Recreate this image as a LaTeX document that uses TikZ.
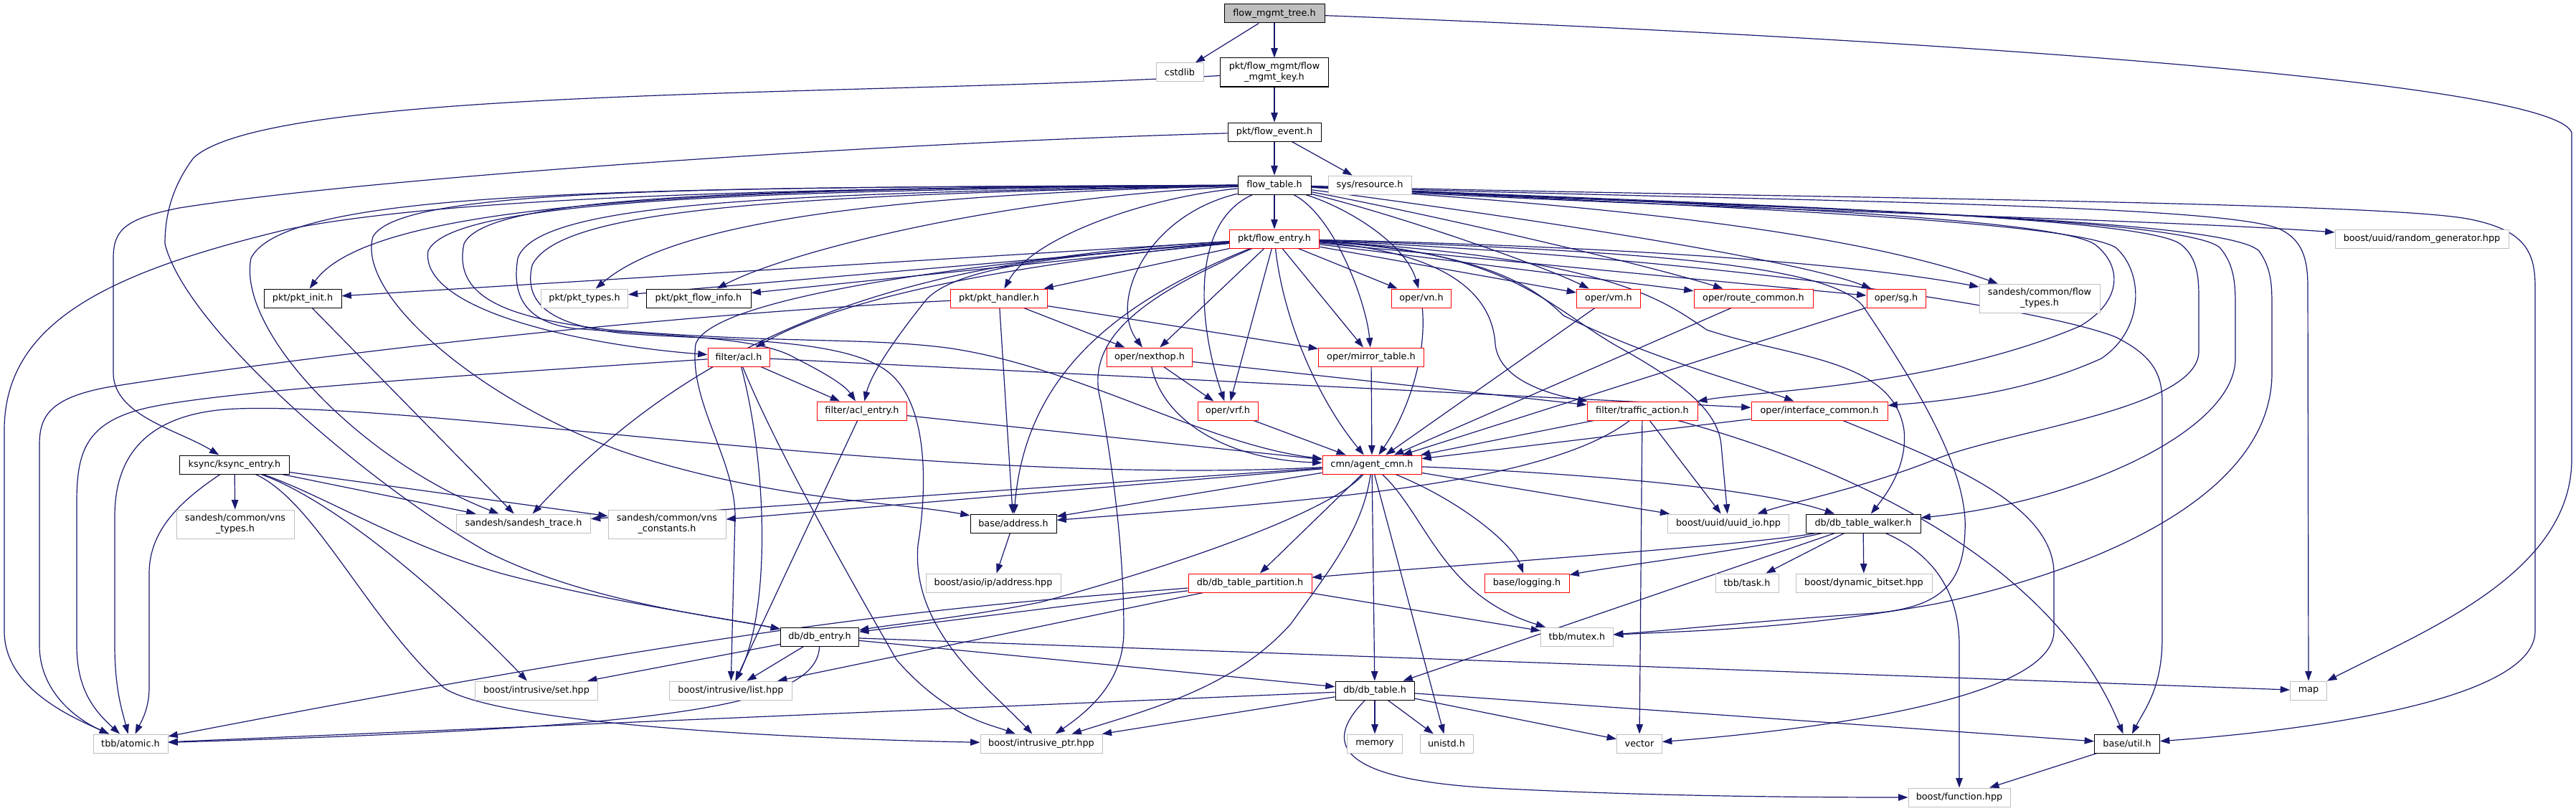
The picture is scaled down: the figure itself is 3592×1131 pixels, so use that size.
\documentclass[tikz,border=0pt]{standalone}
\usepackage{fontspec}
\newfontfamily\djv{DejaVu Sans}
\usetikzlibrary{arrows.meta}
\definecolor{edgec}{HTML}{191970}
\definecolor{gsev}{HTML}{BFBFBF}
\pgfdeclarelayer{bglayer}
\pgfsetlayers{bglayer,main}
\tikzset{
  nb/.style={rectangle, line width=0.75pt, minimum height=19.5pt, inner sep=0pt, fill=white, align=center, font=\djv\fontsize{9.6pt}{11.25pt}\selectfont},
  bb/.style={nb, draw=black},
  rb/.style={nb, draw=red},
  gb/.style={nb, draw=gsev},
  rootb/.style={nb, draw=black, fill=gsev},
  tall/.style={minimum height=30pt},
  wd/.style={minimum width=#1*0.75pt},
  ed/.style={draw=edgec, line width=0.9pt, -{Triangle[length=10pt,width=7pt]}},
}
\begin{document}
\begin{tikzpicture}[x=0.75pt,y=-0.75pt]
\useasboundingbox (0,0) rectangle (3592,1131);
% nodes
\node[rootb,wd=140] (N1) at (1777,19) {flow\_mgmt\_tree.h};
\node[gb,wd=66] (N2) at (1645,101) {cstdlib};
\node[bb,tall,wd=151] (N3) at (1777,101) {pkt/flow\_mgmt/flow\\\_mgmt\_key.h};
\node[bb,wd=130] (N4) at (1777,184) {pkt/flow\_event.h};
\node[bb,wd=102] (N5) at (1777,258) {flow\_table.h};
\node[gb,wd=116] (N6) at (1910,258) {sys/resource.h};
\node[gb,wd=242] (N7) at (3377,333) {boost/uuid/random\_generator.hpp};
\node[rb,wd=125] (N8) at (1777,333) {pkt/flow\_entry.h};
\node[bb,wd=108] (N9) at (422,416) {pkt/pkt\_init.h};
\node[gb,wd=121] (N10) at (815,416) {pkt/pkt\_types.h};
\node[bb,wd=146] (N11) at (974,416) {pkt/pkt\_flow\_info.h};
\node[rb,wd=135] (N12) at (1393,416) {pkt/pkt\_handler.h};
\node[rb,wd=83] (N13) at (1982,416) {oper/vn.h};
\node[rb,wd=89] (N14) at (2243,416) {oper/vm.h};
\node[rb,wd=166] (N15) at (2445,416) {oper/route\_common.h};
\node[rb,wd=82] (N16) at (2644,416) {oper/sg.h};
\node[gb,tall,wd=168] (N17) at (2844,416) {sandesh/common/flow\\\_types.h};
\node[rb,wd=86] (N18) at (1030,498) {filter/acl.h};
\node[rb,wd=119] (N19) at (1603,498) {oper/nexthop.h};
\node[rb,wd=147] (N20) at (1912,498) {oper/mirror\_table.h};
\node[rb,wd=84] (N21) at (1712,573) {oper/vrf.h};
\node[rb,wd=125] (N22) at (1202,573) {filter/acl\_entry.h};
\node[rb,wd=154] (N23) at (2290,573) {filter/traffic\_action.h};
\node[rb,wd=190] (N24) at (2537,573) {oper/interface\_common.h};
\node[rb,wd=138] (N25) at (1913,648) {cmn/agent\_cmn.h};
\node[bb,wd=153] (N26) at (327,648) {ksync/ksync\_entry.h};
\node[gb,tall,wd=164] (N27) at (328,731) {sandesh/common/vns\\\_types.h};
\node[gb,wd=187] (N28) at (730,730) {sandesh/sandesh\_trace.h};
\node[gb,tall,wd=164] (N29) at (930,731) {sandesh/common/vns\\\_constants.h};
\node[bb,wd=120] (N30) at (1413,730) {base/address.h};
\node[gb,wd=169] (N31) at (2410,730) {boost/uuid/uuid\_io.hpp};
\node[bb,wd=160] (N32) at (2598,730) {db/db\_table\_walker.h};
\node[gb,wd=188] (N33) at (1385,813) {boost/asio/ip/address.hpp};
\node[rb,wd=172] (N34) at (1743,813) {db/db\_table\_partition.h};
\node[rb,wd=118] (N35) at (2129,813) {base/logging.h};
\node[gb,wd=88] (N36) at (2436,813) {tbb/task.h};
\node[gb,wd=190] (N37) at (2599,813) {boost/dynamic\_bitset.hpp};
\node[gb,wd=101] (N38) at (2199,888) {tbb/mutex.h};
\node[bb,wd=109] (N39) at (1143,888) {db/db\_entry.h};
\node[gb,wd=171] (N40) at (748,963) {boost/intrusive/set.hpp};
\node[gb,wd=171] (N41) at (1019,963) {boost/intrusive/list.hpp};
\node[gb,wd=51] (N42) at (3219,963) {map};
\node[bb,wd=110] (N43) at (1917,963) {db/db\_table.h};
\node[gb,wd=104] (N44) at (182,1037) {tbb/atomic.h};
\node[gb,wd=170] (N45) at (1452,1037) {boost/intrusive\_ptr.hpp};
\node[gb,wd=77] (N46) at (1917,1037) {memory};
\node[gb,wd=74] (N47) at (2017,1037) {unistd.h};
\node[gb,wd=63] (N48) at (2286,1037) {vector};
\node[bb,wd=91] (N49) at (2966,1037) {base/util.h};
\node[gb,wd=142] (N50) at (2732,1112) {boost/function.hpp};
\begin{pgfonlayer}{bglayer}
\fill[white] (0,0) rectangle (3592,1131);
% top chain
\draw[ed] (N1) -- (N2);
\draw[ed] (N1) -- (N3);
\draw[ed] (N1) .. controls (2600,50) and (3560,110) .. (3586,185) -- (3586,640) .. controls (3586,800) and (3380,880) .. (N42);
\draw[ed] (N3) -- (N4);
\draw[ed] (N3) .. controls (1200,135) and (380,120) .. (270,220) .. controls (240,260) and (230,300) .. (230,340) .. controls (260,460) and (520,680) .. (680,770) .. controls (820,840) and (1000,860) .. (N39);
\draw[ed] (N4) -- (N5);
\draw[ed] (N4) -- (N6);
\draw[ed] (N4) .. controls (1200,200) and (500,250) .. (250,290) .. controls (175,305) and (158,320) .. (158,360) -- (158,520) .. controls (158,580) and (250,600) .. (N26);
% flow_table right side
\draw[ed] (N5) -- (N8);
\draw[ed] (N5) .. controls (2300,290) and (3000,305) .. (N7);
\draw[ed] (N5) .. controls (2400,280) and (3100,282) .. (3180,320) .. controls (3210,335) and (3218,360) .. (3218,400) -- (N42);
\draw[ed] (N5) .. controls (2400,275) and (3300,280) .. (3440,305) .. controls (3520,320) and (3535,350) .. (3535,400) -- (3535,880) .. controls (3535,980) and (3200,1020) .. (N49);
\draw[ed] (N5) .. controls (2300,282) and (2850,300) .. (2920,340) .. controls (2960,370) and (2960,420) .. (2900,455) .. controls (2700,540) and (2450,545) .. (N23);
\draw[ed] (N5) .. controls (2300,285) and (2880,305) .. (2950,345) .. controls (2990,380) and (2990,460) .. (2930,500) .. controls (2820,550) and (2700,560) .. (N24);
\draw[ed] (N5) .. controls (2400,285) and (2980,300) .. (3040,340) .. controls (3066,360) and (3066,390) .. (3066,420) -- (3066,490) .. controls (3066,570) and (2800,600) .. (2700,640) .. controls (2600,680) and (2500,700) .. (N31);
\draw[ed] (N5) .. controls (2400,288) and (3040,300) .. (3095,345) .. controls (3117,370) and (3117,400) .. (3117,430) -- (3117,500) .. controls (3117,600) and (2900,700) .. (N32);
\draw[ed] (N5) .. controls (2400,290) and (3100,300) .. (3150,350) .. controls (3168,375) and (3168,400) .. (3168,430) -- (3168,520) .. controls (3168,700) and (2900,800) .. (2700,842) .. controls (2500,878) and (2350,880) .. (N38);
\draw[ed] (N8) .. controls (2400,360) and (2850,430) .. (2950,470) .. controls (3000,495) and (3015,520) .. (3015,560) -- (3015,890) .. controls (3015,960) and (2990,990) .. (N49);
\draw[ed] (N8) .. controls (2300,350) and (2560,370) .. (2600,430) .. controls (2660,520) and (2745,650) .. (2740,740) .. controls (2738,820) and (2700,850) .. (2600,856) .. controls (2450,866) and (2320,880) .. (N38);
\draw[ed] (N5) .. controls (2300,290) and (2600,330) .. (N17);
\draw[ed] (N8) .. controls (2300,345) and (2600,370) .. (N17);
\draw[ed] (N5) .. controls (2100,300) and (2500,360) .. (N16);
\draw[ed] (N8) -- (N16);
\draw[ed] (N5) .. controls (2000,300) and (2300,370) .. (N15);
\draw[ed] (N8) -- (N15);
\draw[ed] (N5) .. controls (1950,300) and (2150,370) .. (N14);
\draw[ed] (N8) -- (N14);
\draw[ed] (N5) .. controls (1880,290) and (1960,340) .. (N13);
\draw[ed] (N8) -- (N13);
% flow_table / flow_entry middle
\draw[ed] (N5) .. controls (1600,275) and (1440,330) .. (N12);
\draw[ed] (N8) -- (N12);
\draw[ed] (N5) .. controls (1600,300) and (1545,420) .. (N19);
\draw[ed] (N8) -- (N19);
\draw[ed] (N12) -- (N19);
\draw[ed] (N5) .. controls (1660,310) and (1670,450) .. (N21);
\draw[ed] (N8) -- (N21);
\draw[ed] (N19) -- (N21);
\draw[ed] (N5) .. controls (1860,300) and (1905,420) .. (N20);
\draw[ed] (N8) -- (N20);
\draw[ed] (N12) -- (N20);
% pkt row
\draw[ed] (N5) .. controls (1000,262) and (520,280) .. (N9);
\draw[ed] (N8) -- (N9);
\draw[ed] (N5) .. controls (1300,270) and (950,300) .. (N10);
\draw[ed] (N8) -- (N10);
\draw[ed] (N5) .. controls (1400,275) and (1100,350) .. (N11);
\draw[ed] (N8) -- (N11);
% acl
\draw[ed] (N5) .. controls (1100,266) and (630,275) .. (597,350) .. controls (585,430) and (800,480) .. (N18);
\draw[ed] (N8) .. controls (1500,360) and (1200,400) .. (N18);
\draw[ed] (N5) .. controls (1100,270) and (750,280) .. (722,360) .. controls (712,420) and (740,450) .. (800,458) .. controls (950,470) and (1060,470) .. (1110,500) .. controls (1160,525) and (1180,540) .. (N22);
\draw[ed] (N8) .. controls (1500,355) and (1330,370) .. (1290,420) .. controls (1250,470) and (1215,520) .. (N22);
\draw[ed] (N18) -- (N22);
% flow_table far-left loops
\draw[ed] (N5) .. controls (1100,264) and (680,268) .. (647,340) .. controls (630,420) and (720,445) .. (850,460) .. controls (1100,480) and (1200,470) .. (1320,485) .. controls (1500,510) and (1680,620) .. (N25);
\draw[ed] (N5) .. controls (1000,262) and (560,260) .. (520,330) .. controls (495,420) and (700,580) .. (900,640) .. controls (1100,700) and (1250,700) .. (N30);
\draw[ed] (N5) .. controls (900,262) and (400,262) .. (350,360) .. controls (330,460) and (500,640) .. (N28);
\draw[ed] (N5) .. controls (1000,262) and (600,280) .. (400,320) .. controls (150,380) and (6,450) .. (6,600) -- (6,880) .. controls (6,960) and (100,1000) .. (N44);
\draw[ed] (N5) .. controls (1100,272) and (780,290) .. (742,370) .. controls (728,430) and (780,455) .. (870,465) .. controls (1000,475) and (1180,470) .. (1240,520) .. controls (1300,570) and (1290,700) .. (1280,760) .. controls (1270,880) and (1380,960) .. (N45);
% flow_entry down
\draw[ed] (N8) .. controls (1790,450) and (1840,560) .. (N25);
\draw[ed] (N8) .. controls (1560,420) and (1430,520) .. (N30);
\draw[ed] (N8) .. controls (1600,410) and (1510,470) .. (1535,560) .. controls (1560,700) and (1567,800) .. (1567,880) .. controls (1567,950) and (1520,990) .. (N45);
\draw[ed] (N8) .. controls (1300,370) and (990,420) .. (970,480) .. controls (960,560) and (1025,640) .. (1025,720) -- (N41);
\draw[ed] (N8) .. controls (1300,360) and (1000,440) .. (N28);
\draw[ed] (N8) .. controls (2000,350) and (2080,400) .. (2085,480) .. controls (2090,530) and (2160,550) .. (N23);
\draw[ed] (N8) .. controls (2050,350) and (2130,390) .. (2180,440) .. controls (2300,500) and (2450,540) .. (N24);
\draw[ed] (N8) .. controls (2100,350) and (2150,420) .. (2250,480) .. controls (2340,530) and (2395,570) .. (2400,620) -- (N31);
\draw[ed] (N8) .. controls (2250,360) and (2320,420) .. (2380,460) .. controls (2500,500) and (2640,500) .. (2655,600) .. controls (2660,650) and (2630,690) .. (N32);
% traffic / interface
\draw[ed] (N23) -- (N25);
\draw[ed] (N23) .. controls (2150,680) and (1800,700) .. (N30);
\draw[ed] (N23) -- (N48);
\draw[ed] (N23) -- (N31);
\draw[ed] (N23) .. controls (2500,630) and (2850,750) .. (N49);
\draw[ed] (N24) -- (N25);
\draw[ed] (N24) .. controls (2700,640) and (2864,700) .. (2864,800) -- (2864,880) .. controls (2864,980) and (2500,1020) .. (N48);
\draw[ed] (N19) -- (N23);
\draw[ed] (N18) -- (N24);
% into agent_cmn
\draw[ed] (N19) .. controls (1620,580) and (1700,640) .. (N25);
\draw[ed] (N21) -- (N25);
\draw[ed] (N20) -- (N25);
\draw[ed] (N13) .. controls (1990,500) and (1960,580) .. (N25);
\draw[ed] (N14) -- (N25);
\draw[ed] (N15) -- (N25);
\draw[ed] (N16) -- (N25);
\draw[ed] (N22) -- (N25);
% acl / handler
\draw[ed] (N22) -- (N41);
\draw[ed] (N18) .. controls (1070,650) and (1075,850) .. (N41);
\draw[ed] (N18) .. controls (1080,620) and (1170,780) .. (1250,920) .. controls (1320,1000) and (1380,1010) .. (N45);
\draw[ed] (N18) .. controls (700,520) and (300,545) .. (200,570) .. controls (120,590) and (107,630) .. (107,700) -- (107,900) .. controls (107,960) and (130,990) .. (N44);
\draw[ed] (N12) .. controls (900,440) and (400,500) .. (150,540) .. controls (70,555) and (55,580) .. (55,620) -- (55,900) .. controls (55,960) and (100,1000) .. (N44);
\draw[ed] (N12) -- (N30);
\draw[ed] (N9) -- (N28);
% agent_cmn out
\draw[ed] (N25) .. controls (1300,680) and (600,560) .. (330,570) .. controls (200,575) and (160,640) .. (160,720) -- (160,900) .. controls (160,960) and (170,990) .. (N44);
\draw[ed] (N25) -- (N28);
\draw[ed] (N25) -- (N29);
\draw[ed] (N25) -- (N30);
\draw[ed] (N25) -- (N31);
\draw[ed] (N25) .. controls (2200,660) and (2450,680) .. (N32);
\draw[ed] (N25) .. controls (2040,700) and (2110,760) .. (N35);
\draw[ed] (N25) -- (N34);
\draw[ed] (N25) .. controls (1990,720) and (2010,830) .. (N38);
\draw[ed] (N25) -- (N43);
\draw[ed] (N25) -- (N47);
\draw[ed] (N25) .. controls (1900,740) and (1850,800) .. (1800,870) .. controls (1720,960) and (1600,990) .. (N45);
\draw[ed] (N25) .. controls (1850,720) and (1600,800) .. (1450,840) .. controls (1350,860) and (1250,870) .. (N39);
% walker
\draw[ed] (N32) .. controls (2450,760) and (2000,790) .. (N34);
\draw[ed] (N32) .. controls (2450,765) and (2250,790) .. (N35);
\draw[ed] (N32) -- (N43);
\draw[ed] (N32) -- (N36);
\draw[ed] (N32) -- (N37);
\draw[ed] (N32) .. controls (2690,770) and (2732,820) .. (2732,900) -- (N50);
% misc
\draw[ed] (N30) -- (N33);
\draw[ed] (N34) -- (N39);
\draw[ed] (N34) -- (N41);
\draw[ed] (N34) -- (N38);
\draw[ed] (N34) .. controls (1350,845) and (1100,860) .. (N44);
\draw[ed] (N39) -- (N40);
\draw[ed] (N39) -- (N41);
\draw[ed] (N39) .. controls (1140,990) and (900,1015) .. (N44);
\draw[ed] (N39) -- (N43);
\draw[ed] (N39) -- (N42);
\draw[ed] (N43) -- (N46);
\draw[ed] (N43) -- (N47);
\draw[ed] (N43) -- (N48);
\draw[ed] (N43) .. controls (1840,1040) and (1870,1090) .. (2100,1100) .. controls (2300,1110) and (2500,1112) .. (N50);
\draw[ed] (N43) -- (N49);
\draw[ed] (N43) -- (N44);
\draw[ed] (N43) -- (N45);
\draw[ed] (N49) -- (N50);
% ksync
\draw[ed] (N26) -- (N27);
\draw[ed] (N26) -- (N28);
\draw[ed] (N26) -- (N29);
\draw[ed] (N26) .. controls (250,700) and (208,740) .. (208,800) -- (208,960) .. controls (208,990) and (195,1010) .. (N44);
\draw[ed] (N26) .. controls (470,700) and (620,830) .. (N40);
\draw[ed] (N26) .. controls (450,690) and (560,760) .. (700,800) .. controls (850,840) and (1000,860) .. (N39);
\draw[ed] (N26) .. controls (440,700) and (510,860) .. (620,960) .. controls (700,1010) and (1100,1030) .. (N45);
\end{pgfonlayer}
\end{tikzpicture}
\end{document}
